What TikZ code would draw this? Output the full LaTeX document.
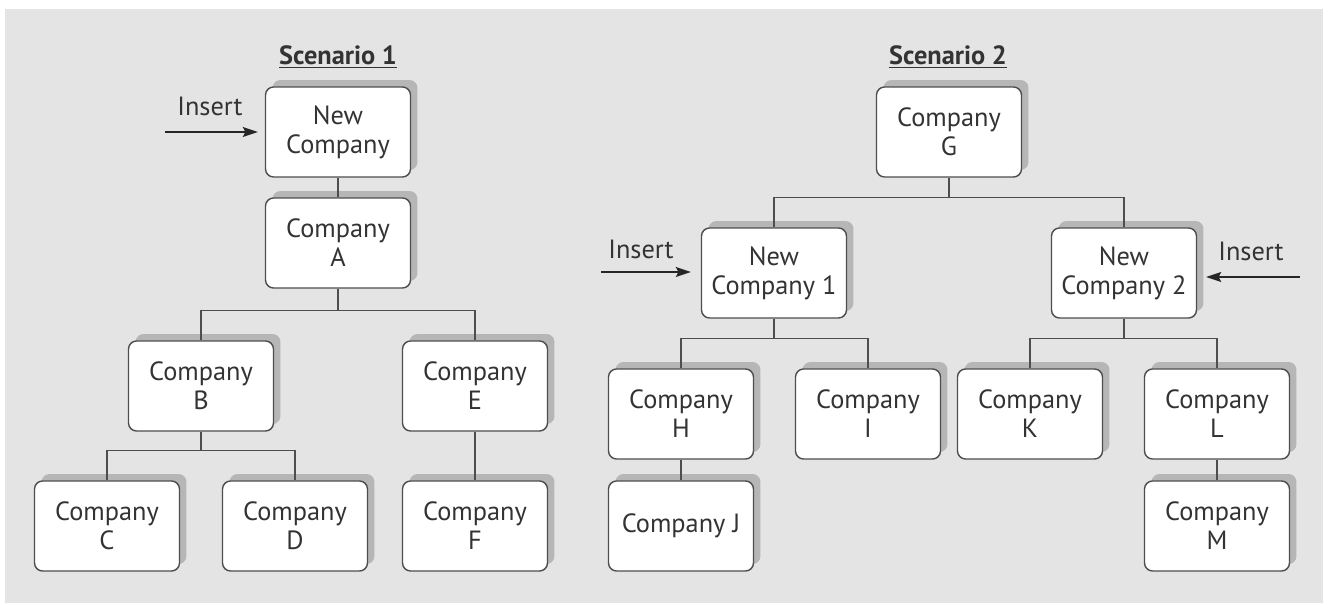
\documentclass[tikz,border=0pt]{standalone}
\usepackage{fontspec}
\setmainfont{PT Sans}
\usepackage{xcolor}
\usetikzlibrary{arrows.meta, positioning, shadows}

\definecolor{fondo}{HTML}{E4E4E4}
\definecolor{sombra}{HTML}{B6B6B6}
\definecolor{borde}{HTML}{4E4E4E}
\definecolor{texto}{HTML}{333333}

\begin{document}
\begin{tikzpicture}[
    x=0.02cm, y=-0.02cm,
    every path/.style={line width=0.8pt},
    >=Stealth
]
    \tikzset{
        empresa/.style={rectangle, rounded corners=0.16cm, draw=borde, fill=white,
            minimum width=2.9cm, minimum height=1.8cm, align=center, text=texto,
            font=\fontsize{15}{16.5}\selectfont,
            drop shadow={shadow xshift=0.14cm, shadow yshift=0.14cm, fill=sombra, opacity=1}},
        titulo/.style={font=\fontsize{15}{18}\selectfont\bfseries, text=texto},
        etiqueta/.style={font=\fontsize{15}{18}\selectfont, text=texto},
        linea/.style={draw=borde},
        flecha/.style={draw=black!85, -{Stealth[length=0.3cm, width=0.2cm, inset=0.05cm]}}
    }

    % Fondo
    \useasboundingbox (0,0) rectangle (1323,604);
    \fill[white] (0,0) rectangle (1323,604);
    \fill[fondo] (5,9) rectangle (1323,603);

    % Escenario 1
    \node[titulo] (t1) at (338,57) {\underline{Scenario 1}};
    \node[empresa] (nueva) at (338,132) {New\\Company};
    \node[empresa] (a) at (338,243) {Company\\A};
    \node[empresa] (b) at (201,386) {Company\\B};
    \node[empresa] (e) at (475,386) {Company\\E};
    \node[empresa] (c) at (107,526) {Company\\C};
    \node[empresa] (d) at (295,526) {Company\\D};
    \node[empresa] (f) at (475,526) {Company\\F};

    \coordinate (ins1) at (165,132);
    \node[etiqueta] (lbl1) at (210,106) {Insert};
    \draw[flecha, shorten >=0.14cm] (ins1) -- (nueva.west);

    \draw[linea] (nueva) -- (a);
    \draw[linea] (a.south) -- ++(0,22) -| (b.north);
    \draw[linea] (a.south) -- ++(0,22) -| (e.north);
    \draw[linea] (b.south) -- ++(0,19) -| (c.north);
    \draw[linea] (b.south) -- ++(0,19) -| (d.north);
    \draw[linea] (e) -- (f);

    % Escenario 2
    \node[titulo] (t2) at (948,57) {\underline{Scenario 2}};
    \node[empresa] (g) at (949,132) {Company\\G};
    \node[empresa] (nueva1) at (774,273) {New\\Company 1};
    \node[empresa] (nueva2) at (1124,273) {New\\Company 2};
    \node[empresa] (h) at (681,414) {Company\\H};
    \node[empresa] (i) at (868,414) {Company\\I};
    \node[empresa] (j) at (681,526) {Company J};
    \node[empresa] (k) at (1030,414) {Company\\K};
    \node[empresa] (l) at (1217,414) {Company\\L};
    \node[empresa] (m) at (1217,526) {Company\\M};

    \coordinate (ins2) at (601,272);
    \coordinate (ins3) at (1300,277);
    \node[etiqueta] (lbl2) at (641,249) {Insert};
    \node[etiqueta] (lbl3) at (1251,251) {Insert};
    \draw[flecha, shorten >=0.2cm] (ins2) -- (ins2 -| nueva1.west);
    \draw[flecha, shorten >=0.18cm] (ins3) -- (ins3 -| nueva2.east);

    \draw[linea] (g.south) -- ++(0,20) -| (nueva1.north);
    \draw[linea] (g.south) -- ++(0,20) -| (nueva2.north);
    \draw[linea] (nueva1.south) -- ++(0,20) -| (h.north);
    \draw[linea] (nueva1.south) -- ++(0,20) -| (i.north);
    \draw[linea] (nueva2.south) -- ++(0,20) -| (k.north);
    \draw[linea] (nueva2.south) -- ++(0,20) -| (l.north);
    \draw[linea] (h) -- (j);
    \draw[linea] (l) -- (m);
\end{tikzpicture}
\end{document}
